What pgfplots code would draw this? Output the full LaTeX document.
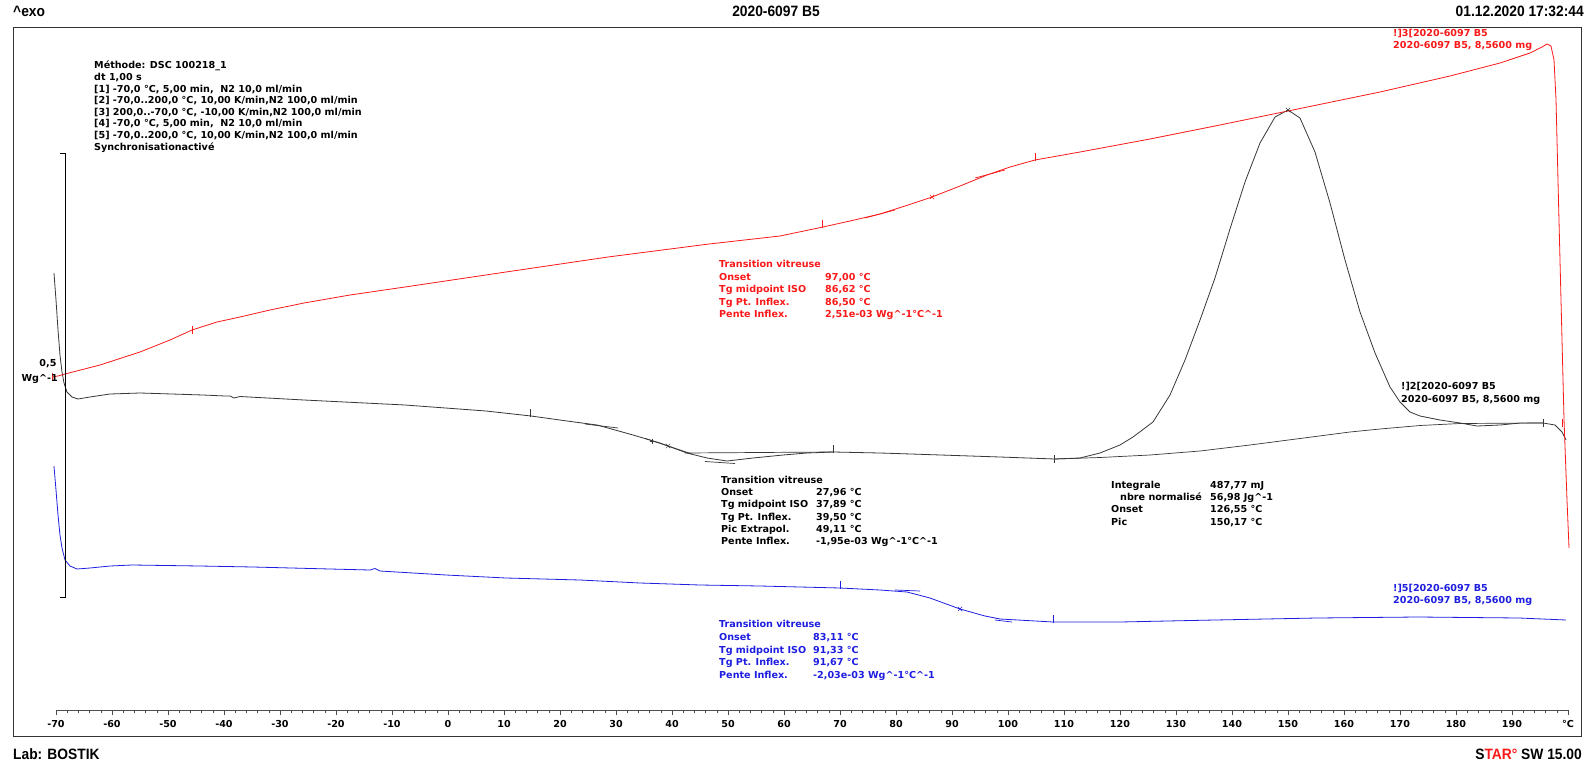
\documentclass[border=0pt]{standalone}
\usepackage{fontspec}
\setmainfont{Liberation Sans}
\newfontfamily\dv{DejaVu Sans}
\usepackage{graphicx}
\usepackage{pgfplots}
\pgfplotsset{compat=1.18}
\definecolor{cred}{RGB}{250,25,25}
\definecolor{cblue}{RGB}{30,30,225}
\definecolor{cblack}{RGB}{55,55,55}
\newcommand{\ann}{\dv\bfseries\fontsize{9.6}{11}\selectfont}
\newcommand{\hdr}{\bfseries\fontsize{15}{17}\selectfont}
\newcommand{\hs}[1]{\scalebox{0.92}[1]{#1}}
\begin{document}
\begin{tikzpicture}[x=1pt,y=1pt]
\path[use as bounding box,fill=white] (0,0) rectangle (1588,763);
\begin{axis}[at={(0,0)},anchor=south west,width=1588pt,height=763pt,scale only axis,
  xmin=-80,xmax=203.5714,ymin=0,ymax=763,y dir=reverse,hide axis,clip=false]
% black: segment 2 (first heating)
\addplot[cblack,line width=0.8pt] coordinates {
(-70.36,273)(-70.00,300)(-69.64,330)(-69.29,355)(-68.93,372)(-68.57,383)(-68.04,392)(-67.14,397)
(-66.07,399)(-63.93,397)(-60.36,394)(-55.00,393)(-43.75,395)(-39.82,396)(-38.93,396)(-38.21,398)
(-37.14,396.5)(-25.71,400)(-7.68,405)(6.79,411)(14.82,416)(21.25,421)(26.61,425)(33.04,435)
(37.86,443)(39.29,446)(42.68,453)(46.25,458)(49.82,461)(54.46,458)(59.82,455)(64.11,453)
(68.75,452)(77.14,453)(82.68,454)(98.57,457)(108.39,459)(112.86,458)(116.43,453)(120.00,445)
(122.32,437)(125.89,422)(128.93,395)(131.61,360)(134.29,320)(136.96,278)(139.64,229)(142.32,182)
(145.00,143)(147.68,117)(150.00,110)(152.14,118)(154.82,152)(157.50,203)(160.18,260)(162.86,312)
(165.54,353)(168.21,387)(170.00,402)(171.79,412)(173.57,416)(177.14,420)(180.71,423)(183.75,426)
(187.86,425)(191.43,423)(195.54,423)(197.68,425)(198.93,432)(199.64,440)};
% black integration baseline
\addplot[cblack,line width=0.7pt] coordinates {
(108.39,459)(116.43,457.5)(125.36,455)(134.29,451)(143.21,445)(152.14,438.5)(161.07,432)
(166.43,429)(173.57,425.5)(180.71,423.5)(195.54,423)};
% black Tg helper lines
\addplot[cblack,line width=0.7pt] coordinates {(42.32,453)(68.75,452)};
\addplot[cblack,line width=0.7pt] coordinates {(24.46,424)(30.36,428)};
\addplot[cblack,line width=0.7pt] coordinates {(35.18,438.4)(43.57,454)};
\addplot[cblack,line width=0.7pt] coordinates {(45.89,461.5)(51.25,463.5)};
\addplot[cblack,only marks,mark=x,mark size=3pt] coordinates {(39.29,446)(150.00,110)};
\addplot[cblack,only marks,mark=+,mark size=2.5pt] coordinates {(36.43,441)};
\addplot[cblack,only marks,mark=|,mark size=4pt,mark options={line width=1pt}] coordinates {(14.82,413)(68.75,449)(108.39,459)(195.54,423)};
% red: segment 3 (cooling)
\addplot[cred,line width=0.8pt] coordinates {
(-70.71,377)(-69.64,376)(-68.39,374)(-62.14,365)(-55.00,352)(-49.64,340)(-45.71,330)(-41.25,322)
(-37.14,317)(-31.79,310)(-25.71,303)(-17.50,295)(-7.68,287)(10.36,272)(28.57,257)(46.61,244)
(59.29,236)(66.96,227)(71.79,221)(77.14,214)(81.61,206)(86.43,197)(91.43,186)(96.25,175)
(100.36,167)(104.82,160)(112.86,152)(125.36,139)(136.96,126)(150.00,111)(166.43,92)(178.93,76)
(187.86,63)(193.21,53)(195.36,47)(196.25,44)(196.96,46)(197.50,60)(197.86,100)(198.21,180)
(198.75,300)(199.29,420)(199.82,500)(200.18,548)};
\addplot[cred,line width=0.7pt] coordinates {(74.46,218)(79.82,210)};
\addplot[cred,line width=0.7pt] coordinates {(94.11,178)(99.46,170)};
\addplot[cred,only marks,mark=x,mark size=3pt] coordinates {(86.43,197)};
\addplot[cred,only marks,mark=|,mark size=4pt,mark options={line width=1pt}] coordinates {(-70.71,377)(-45.71,330)(66.96,224)(104.82,157)(198.93,423)};
% blue: segment 5 (second heating)
\addplot[cblue,line width=0.8pt] coordinates {
(-70.36,466)(-70.00,490)(-69.64,515)(-69.29,535)(-68.93,548)(-68.39,560)(-67.50,566)(-66.25,569)
(-63.93,568)(-60.36,566)(-56.43,565)(-44.29,566)(-34.82,567)(-21.07,569)(-13.93,570)(-13.04,568.5)
(-12.14,571)(-0.36,575)(10.36,578)(23.57,580)(34.29,583)(45.00,585)(55.71,586)(70.00,588)
(77.14,590)(81.96,592)(86.07,598)(91.43,609)(95.89,616)(98.57,619)(108.04,622)(120.00,622)
(136.96,620)(155.18,618)(173.21,617)(191.25,618)(199.64,620)};
\addplot[cblue,line width=0.7pt] coordinates {(79.82,590)(84.29,591)};
\addplot[cblue,line width=0.7pt] coordinates {(97.68,620)(100.71,622)};
\addplot[cblue,only marks,mark=x,mark size=3pt] coordinates {(91.43,609)};
\addplot[cblue,only marks,mark=|,mark size=4pt,mark options={line width=1pt}] coordinates {(70.00,585)(108.04,619)};
\end{axis}
\begin{scope}[shift={(0,763)},y=-1pt]
\draw[line width=0.8pt,black!80] (13,27) rectangle (1581,736);
% y scale bar
\draw[line width=0.8pt] (60,153) -- (65,153) -- (65,597) -- (60,597);
\node[font=\ann,anchor=base] at (48,366.5) {0,5};
\node[font=\ann,anchor=base east,inner sep=0pt] at (58,381.5) {Wg\textasciicircum-1};
% ruler
\draw[line width=0.6pt,black!70] (56,710) -- (1568,710);
\foreach \t in {-70,-68,...,200} {\draw[line width=0.5pt,black!70] ({56+(\t+70)*5.6},710) -- ++(0,3);}
\foreach \t in {-70,-60,...,200} {\draw[line width=0.6pt,black!70] ({56+(\t+70)*5.6},710) -- ++(0,5);}
\foreach \t in {-70,-60,...,190} {\node[font=\ann,anchor=base] at ({56+(\t+70)*5.6},727.5) {\t};}
\node[font=\ann,anchor=base] at (1568,727.5) {°C};
% header / footer
\node[font=\hdr,anchor=base west,inner sep=0pt] at (13,16.5) {\hs{\textasciicircum exo}};
\node[font=\hdr,anchor=base,inner sep=0pt] at (776,16.5) {\hs{2020-6097 B5}};
\node[font=\hdr,anchor=base east,inner sep=0pt] at (1584,16.5) {\hs{01.12.2020 17:32:44}};
\node[font=\hdr,anchor=base west,inner sep=0pt] at (13,759.5) {\hs{Lab: BOSTIK}};
\node[font=\hdr,anchor=base east,inner sep=0pt] at (1582,759.5) {\hs{S\textcolor{cred}{TAR°} SW 15.00}};
% method block
\begin{scope}[every node/.style={font=\ann,anchor=base west,inner sep=0pt}]
\node at (94,69) {Méthode: DSC 100218\_1};
\node at (94,80.6) {dt 1,00 s};
\node at (94,92.2) {{[1]} -70,0 °C, 5,00 min,\ \ N2 10,0 ml/min};
\node at (94,103.8) {{[2]} -70,0..200,0 °C, 10,00 K/min,N2 100,0 ml/min};
\node at (94,115.4) {{[3]} 200,0..-70,0 °C, -10,00 K/min,N2 100,0 ml/min};
\node at (94,127) {{[4]} -70,0 °C, 5,00 min,\ \ N2 10,0 ml/min};
\node at (94,138.6) {{[5]} -70,0..200,0 °C, 10,00 K/min,N2 100,0 ml/min};
\node at (94,150.2) {Synchronisationactivé};
% red block
\begin{scope}[text=cred]
\node at (719,268) {Transition vitreuse};
\node at (719,280.4) {Onset}; \node at (825,280.4) {97,00 °C};
\node at (719,292.8) {Tg midpoint ISO}; \node at (825,292.8) {86,62 °C};
\node at (719,305.2) {Tg Pt. Inflex.}; \node at (825,305.2) {86,50 °C};
\node at (719,317.6) {Pente Inflex.}; \node at (825,317.6) {2,51e-03 Wg\textasciicircum-1°C\textasciicircum-1};
\node at (1393,36.5) {!]3[2020-6097 B5};
\node at (1393,49) {2020-6097 B5, 8,5600 mg};
\end{scope}
% black Tg block
\begin{scope}[text=black]
\node at (721,483.5) {Transition vitreuse};
\node at (721,495.7) {Onset}; \node at (816,495.7) {27,96 °C};
\node at (721,507.9) {Tg midpoint ISO}; \node at (816,507.9) {37,89 °C};
\node at (721,520.1) {Tg Pt. Inflex.}; \node at (816,520.1) {39,50 °C};
\node at (721,532.3) {Pic Extrapol.}; \node at (816,532.3) {49,11 °C};
\node at (721,544.5) {Pente Inflex.}; \node at (816,544.5) {-1,95e-03 Wg\textasciicircum-1°C\textasciicircum-1};
\node at (1111,488.5) {Integrale}; \node at (1210,488.5) {487,77 mJ};
\node at (1120,500.7) {nbre normalisé}; \node at (1210,500.7) {56,98 Jg\textasciicircum-1};
\node at (1111,512.9) {Onset}; \node at (1210,512.9) {126,55 °C};
\node at (1111,525.1) {Pic}; \node at (1210,525.1) {150,17 °C};
\node at (1401,390) {!]2[2020-6097 B5};
\node at (1401,402.5) {2020-6097 B5, 8,5600 mg};
\end{scope}
% blue block
\begin{scope}[text=cblue]
\node at (719,627.5) {Transition vitreuse};
\node at (719,640.3) {Onset}; \node at (813,640.3) {83,11 °C};
\node at (719,653.1) {Tg midpoint ISO}; \node at (813,653.1) {91,33 °C};
\node at (719,665.9) {Tg Pt. Inflex.}; \node at (813,665.9) {91,67 °C};
\node at (719,678.7) {Pente Inflex.}; \node at (813,678.7) {-2,03e-03 Wg\textasciicircum-1°C\textasciicircum-1};
\node at (1393,591.5) {!]5[2020-6097 B5};
\node at (1393,604) {2020-6097 B5, 8,5600 mg};
\end{scope}
\end{scope}
\end{scope}
\end{tikzpicture}
\end{document}
